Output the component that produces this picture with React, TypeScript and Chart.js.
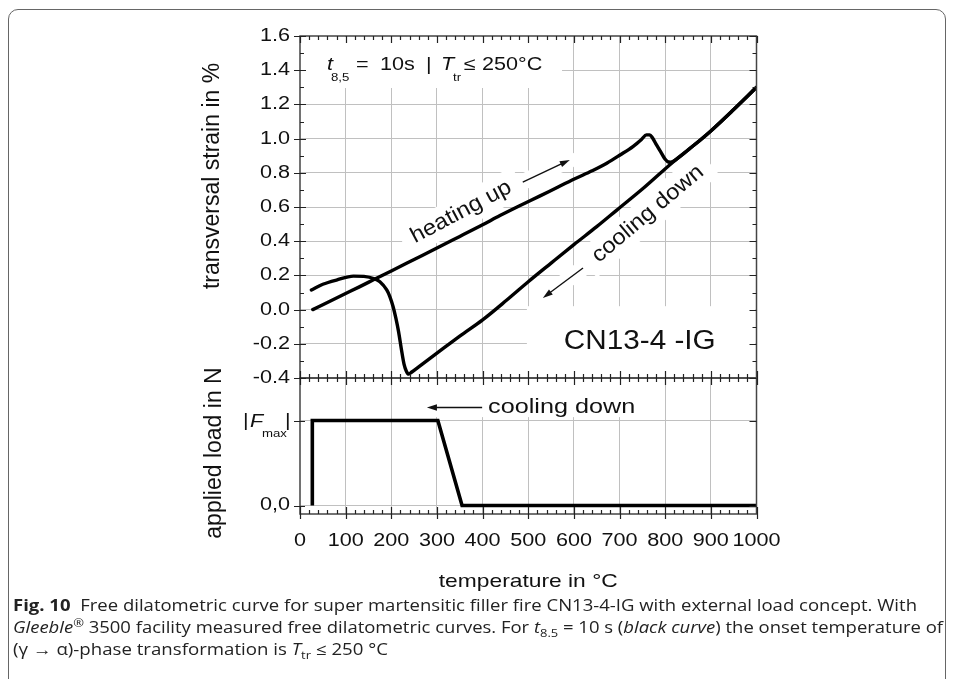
import React, { useEffect, useLayoutEffect, useRef } from 'react';
import { Chart, registerables } from 'chart.js';

Chart.register(...registerables);

// ---------- data ----------
const HEAT_T = [28, 60, 100, 130, 163, 200, 250, 300, 350, 400, 438, 480, 526, 560, 602, 640, 672, 701, 730, 748, 759, 766, 772, 781, 792, 800, 807, 812, 818, 860, 900, 950, 1000];
const HEAT_S = [0.0, 0.042, 0.094, 0.133, 0.177, 0.226, 0.293, 0.36, 0.428, 0.496, 0.55, 0.606, 0.665, 0.71, 0.765, 0.812, 0.856, 0.904, 0.955, 0.995, 1.022, 1.022, 1.005, 0.963, 0.914, 0.879, 0.863, 0.862, 0.868, 0.955, 1.045, 1.17, 1.3];

const COOL_T = [25, 50, 80, 117, 140, 163, 175, 190, 197, 204, 210, 216, 222, 228, 233, 238, 245, 260, 300, 350, 400, 453, 500, 550, 600, 650, 694, 750, 818, 860, 900, 950, 1000];
const COOL_S = [0.115, 0.148, 0.173, 0.196, 0.194, 0.18, 0.163, 0.115, 0.075, 0.017, -0.05, -0.13, -0.23, -0.32, -0.36, -0.377, -0.365, -0.335, -0.255, -0.155, -0.06, 0.056, 0.163, 0.272, 0.38, 0.485, 0.582, 0.705, 0.865, 0.955, 1.045, 1.17, 1.3];

const LOAD_T = [27, 27, 302, 355, 1000];
const LOAD_V = [0, 1, 1, 0, 0];

const X_TICKS = [0, 100, 200, 300, 400, 500, 600, 700, 800, 900, 1000];
const X_TICK_LABELS = ['0', '100', '200', '300', '400', '500', '600', '700', '800', '900', '1000'];
const STRAIN_TICKS = [-0.4, -0.2, 0, 0.2, 0.4, 0.6, 0.8, 1.0, 1.2, 1.4, 1.6];
const STRAIN_TICK_LABELS = ['-0.4', '-0.2', '0.0', '0.2', '0.4', '0.6', '0.8', '1.0', '1.2', '1.4', '1.6'];
const LOAD_TICKS = [0, 1];
const LOAD_TICK_LABELS = ['0,0', '|Fmax|'];

// ---------- styling ----------
const W = 956;
const CH = 600;
const FONT = '"Liberation Sans", Arial, Helvetica, sans-serif';
const SX = 1.2;
const GRID = '#c0c0c0';
const INK = '#111';
const AXIS = '#444';

function txt(ctx: CanvasRenderingContext2D, s: string, x: number, y: number, size: number, o: any = {}) {
  ctx.save();
  ctx.font = `${o.italic ? 'italic ' : ''}${size}px ${FONT}`;
  ctx.fillStyle = o.color || INK;
  ctx.textAlign = o.align || 'left';
  ctx.textBaseline = 'middle';
  ctx.translate(x, y);
  if (o.rot) ctx.rotate(o.rot);
  ctx.scale(o.sx ?? SX, 1);
  ctx.fillText(s, 0, 0);
  ctx.restore();
}

function arrow(ctx: CanvasRenderingContext2D, x1: number, y1: number, x2: number, y2: number, head = 10) {
  const a = Math.atan2(y2 - y1, x2 - x1);
  const c = Math.cos(a), s = Math.sin(a);
  ctx.save();
  ctx.strokeStyle = INK;
  ctx.fillStyle = INK;
  ctx.lineWidth = 1.4;
  ctx.beginPath();
  ctx.moveTo(x1, y1);
  ctx.lineTo(x2 - head * 0.7 * c, y2 - head * 0.7 * s);
  ctx.stroke();
  ctx.beginPath();
  ctx.moveTo(x2, y2);
  ctx.lineTo(x2 - head * c + head * 0.32 * s, y2 - head * s - head * 0.32 * c);
  ctx.lineTo(x2 - head * c - head * 0.32 * s, y2 - head * s + head * 0.32 * c);
  ctx.closePath();
  ctx.fill();
  ctx.restore();
}

function whiteRot(ctx: CanvasRenderingContext2D, cx: number, cy: number, w: number, h: number, rot: number) {
  ctx.save();
  ctx.translate(cx, cy);
  ctx.rotate(rot);
  ctx.fillStyle = '#fff';
  ctx.fillRect(-w / 2, -h / 2, w, h);
  ctx.restore();
}

function whiteLine(ctx: CanvasRenderingContext2D, x1: number, y1: number, x2: number, y2: number, w: number) {
  ctx.save();
  ctx.strokeStyle = '#fff';
  ctx.lineWidth = w;
  ctx.lineCap = 'round';
  ctx.beginPath();
  ctx.moveTo(x1, y1);
  ctx.lineTo(x2, y2);
  ctx.stroke();
  ctx.restore();
}

const HEAT_ROT = -28 * Math.PI / 180;
const COOL_ROT = -40 * Math.PI / 180;

const decor = {
  id: 'decor',
  beforeDatasetsDraw(chart: any) {
    const ctx: CanvasRenderingContext2D = chart.ctx;
    const { x, y, y2 } = chart.scales;
    ctx.save();
    ctx.fillStyle = '#fff';
    ctx.fillRect(x.left + 1, y.top + 1, x.getPixelForValue(574) - x.left - 1, y.getPixelForValue(1.296) - y.top - 1);
    const cx0 = x.getPixelForValue(497);
    const cy0 = y.getPixelForValue(0.02);
    ctx.fillRect(cx0, cy0, x.right - cx0 - 1, y.bottom - cy0 - 1);
    const bx0 = x.getPixelForValue(262);
    const by1 = y2.getPixelForValue(1.04);
    ctx.fillRect(bx0, y2.top + 1, x.getPixelForValue(760) - bx0, by1 - y2.top - 1);
    ctx.restore();
    whiteRot(ctx, x.getPixelForValue(353), y.getPixelForValue(0.571), 132, 32, HEAT_ROT);
    whiteLine(ctx, x.getPixelForValue(488), y.getPixelForValue(0.746), x.getPixelForValue(591), y.getPixelForValue(0.875), 16);
    whiteRot(ctx, x.getPixelForValue(762), y.getPixelForValue(0.559), 160, 32, COOL_ROT);
    whiteLine(ctx, x.getPixelForValue(620), y.getPixelForValue(0.243), x.getPixelForValue(532), y.getPixelForValue(0.068), 16);
  },
  afterDatasetsDraw(chart: any) {
    const ctx: CanvasRenderingContext2D = chart.ctx;
    const { x, y, y2 } = chart.scales;
    const L = x.left, R = x.right, T = y.top, M = y.bottom, B = y2.bottom;

    ctx.save();
    ctx.strokeStyle = AXIS;
    ctx.lineWidth = 1.5;
    ctx.strokeRect(L, T, R - L, M - T);
    ctx.strokeRect(L, M, R - L, B - M);

    ctx.lineWidth = 1.2;
    ctx.strokeStyle = '#222';
    ctx.beginPath();
    for (let t = 0; t <= 1000; t += 20) {
      const px = Math.round(x.getPixelForValue(t)) + 0.5;
      const major = t % 100 === 0;
      const len = major ? 7 : 4;
      ctx.moveTo(px, T); ctx.lineTo(px, T + len);
      ctx.moveTo(px, M - len); ctx.lineTo(px, M + len);
      ctx.moveTo(px, B - len); ctx.lineTo(px, B + (major ? 5 : 0));
    }
    for (let i = 0; i <= 20; i++) {
      const v = -0.4 + i * 0.1;
      const py = Math.round(y.getPixelForValue(v)) + 0.5;
      const major = i % 2 === 0;
      ctx.moveTo(L - (major ? 6 : 0), py); ctx.lineTo(L + (major ? 6 : 4), py);
      ctx.moveTo(R, py); ctx.lineTo(R - (major ? 7 : 4), py);
    }
    for (const v of LOAD_TICKS) {
      const py = Math.round(y2.getPixelForValue(v)) + 0.5;
      ctx.moveTo(L - 6, py); ctx.lineTo(L + 5, py);
      ctx.moveTo(R, py); ctx.lineTo(R - 7, py);
    }
    ctx.stroke();
    ctx.restore();

    X_TICKS.forEach((v, i) => {
      txt(ctx, X_TICK_LABELS[i], x.getPixelForValue(v), B + 27, 18, { align: 'center' });
    });
    STRAIN_TICKS.forEach((v, i) => {
      txt(ctx, STRAIN_TICK_LABELS[i], L - 10, y.getPixelForValue(v), 18, { align: 'right' });
    });
    txt(ctx, LOAD_TICK_LABELS[0], L - 10, y2.getPixelForValue(LOAD_TICKS[0]), 18, { align: 'right' });
    const fy = y2.getPixelForValue(LOAD_TICKS[1]);
    txt(ctx, '|', L - 57, fy + 1, 18);
    txt(ctx, 'F', L - 50, fy + 1, 18, { italic: true });
    txt(ctx, 'max', L - 38, fy + 13, 11);
    txt(ctx, '|', L - 15, fy + 1, 18);

    txt(ctx, 'transversal strain in %', 213, 176, 23, { align: 'center', rot: -Math.PI / 2, sx: 1 });
    txt(ctx, 'applied load in N', 215, 453, 23, { align: 'center', rot: -Math.PI / 2, sx: 1 });
    txt(ctx, 'temperature in °C', (L + R) / 2, 582, 19, { align: 'center' });

    const ay = y.getPixelForValue(1.43);
    txt(ctx, 't', 327, ay, 18, { italic: true });
    txt(ctx, '8,5', 331, ay + 13, 11);
    txt(ctx, '=', 356, ay, 18);
    txt(ctx, '10s', 380, ay, 18);
    txt(ctx, '|', 426, ay, 18);
    txt(ctx, 'T', 441, ay, 18, { italic: true });
    txt(ctx, 'tr', 453, ay + 13, 11);
    txt(ctx, '\u2264', 464, ay, 18);
    txt(ctx, '250°C', 482, ay, 18);

    txt(ctx, 'heating up', x.getPixelForValue(353), y.getPixelForValue(0.571), 22, { align: 'center', rot: HEAT_ROT, sx: 1.08 });
    arrow(ctx, x.getPixelForValue(488), y.getPixelForValue(0.746), x.getPixelForValue(591), y.getPixelForValue(0.875));
    txt(ctx, 'cooling down', x.getPixelForValue(762), y.getPixelForValue(0.559), 22, { align: 'center', rot: COOL_ROT, sx: 1.08 });
    arrow(ctx, x.getPixelForValue(620), y.getPixelForValue(0.243), x.getPixelForValue(532), y.getPixelForValue(0.068));

    txt(ctx, 'CN13-4 -IG', x.getPixelForValue(578), y.getPixelForValue(-0.184), 27, { sx: 1.1 });

    const cy = y2.getPixelForValue(1.153);
    arrow(ctx, x.getPixelForValue(399), cy, x.getPixelForValue(278), cy);
    txt(ctx, 'cooling down', x.getPixelForValue(412), cy, 21);
  },
};

function makeData(xs: number[], ys: number[]) {
  return xs.map((v, i) => ({ x: v, y: ys[i] }));
}

function ChartPanel() {
  const ref = useRef<HTMLCanvasElement | null>(null);
  useEffect(() => {
    if (!ref.current) return;
    const chart = new Chart(ref.current, {
      type: 'line',
      data: {
        datasets: [
          {
            label: 'heating',
            data: makeData(HEAT_T, HEAT_S),
            yAxisID: 'y',
            borderColor: '#000',
            borderWidth: 3.4,
            pointRadius: 0,
            cubicInterpolationMode: 'monotone',
            borderCapStyle: 'round',
            borderJoinStyle: 'round',
          },
          {
            label: 'cooling',
            data: makeData(COOL_T, COOL_S),
            yAxisID: 'y',
            borderColor: '#000',
            borderWidth: 3.4,
            pointRadius: 0,
            cubicInterpolationMode: 'monotone',
            borderCapStyle: 'round',
            borderJoinStyle: 'round',
          },
          {
            label: 'load',
            data: makeData(LOAD_T, LOAD_V),
            yAxisID: 'y2',
            borderColor: '#000',
            borderWidth: 3.6,
            pointRadius: 0,
            tension: 0,
            borderJoinStyle: 'miter',
          },
        ],
      },
      options: {
        responsive: false,
        animation: false,
        events: [],
        layout: { padding: { left: 0, top: 36, right: W - 756.5, bottom: 0 } },
        plugins: { legend: { display: false }, tooltip: { enabled: false } },
        scales: {
          x: {
            type: 'linear',
            position: 'bottom',
            min: 0,
            max: 1000,
            afterBuildTicks: (s: any) => { s.ticks = X_TICKS.map((v) => ({ value: v })); },
            afterFit: (s: any) => { s.height = CH - 514; },
            ticks: { display: false },
            grid: {
              drawTicks: false,
              lineWidth: 1,
              color: (c: any) => (c.tick && (c.tick.value === 0 || c.tick.value === 1000) ? 'rgba(0,0,0,0)' : GRID),
            },
            border: { display: false },
          },
          y: {
            type: 'linear',
            position: 'left',
            stack: 'panels',
            stackWeight: 342,
            weight: 2,
            min: -0.4,
            max: 1.6,
            afterBuildTicks: (s: any) => { s.ticks = STRAIN_TICKS.map((v) => ({ value: v })); },
            afterFit: (s: any) => { s.width = 300; },
            ticks: { display: false },
            grid: {
              drawTicks: false,
              lineWidth: 1,
              color: (c: any) => (c.tick && (Math.abs(c.tick.value - 1.6) < 1e-6 || Math.abs(c.tick.value + 0.4) < 1e-6) ? 'rgba(0,0,0,0)' : GRID),
            },
            border: { display: false },
          },
          y2: {
            type: 'linear',
            position: 'left',
            stack: 'panels',
            stackWeight: 136,
            weight: 1,
            min: -0.1,
            max: 1.5,
            afterBuildTicks: (s: any) => { s.ticks = LOAD_TICKS.map((v) => ({ value: v })); },
            afterFit: (s: any) => { s.width = 300; },
            ticks: { display: false },
            grid: { drawTicks: false, lineWidth: 1, color: GRID },
            border: { display: false },
          },
        },
      },
      plugins: [decor],
    } as any);
    return () => chart.destroy();
  }, []);
  return <canvas ref={ref} width={W} height={CH} style={{ position: 'absolute', left: 0, top: 0, display: 'block' }} />;
}

const CAP_FONT = '"Open Sans", "Noto Sans", sans-serif';
const CAP_TARGETS = [904, 930, 375];

export default function App() {
  const lineRefs = useRef<(HTMLSpanElement | null)[]>([]);
  useLayoutEffect(() => {
    lineRefs.current.forEach((el, i) => {
      if (!el) return;
      el.style.transform = 'none';
      const w = el.getBoundingClientRect().width;
      if (w > 0) el.style.transform = `scaleX(${CAP_TARGETS[i] / w})`;
    });
  }, []);
  const lineStyle: React.CSSProperties = {
    position: 'absolute',
    left: 13,
    whiteSpace: 'nowrap',
    display: 'inline-block',
    transformOrigin: 'left center',
    fontFamily: CAP_FONT,
    fontSize: 15.5,
    lineHeight: '22px',
    color: '#222',
  };
  return (
    <div style={{ position: 'absolute', left: 0, top: 0, width: W, height: 679, overflow: 'hidden', background: '#fff' }}>
      <div style={{ position: 'absolute', left: 8, top: 9, width: 938, height: 720, border: '1.5px solid #666', borderRadius: 10, boxSizing: 'border-box' }} />
      <ChartPanel />
      <span ref={(e) => { lineRefs.current[0] = e; }} style={{ ...lineStyle, top: 594 }}>
        <b style={{ fontWeight: 700 }}>Fig. 10</b>{'\u00a0\u00a0'}Free dilatometric curve for super martensitic filler fire CN13-4-IG with external load concept. With
      </span>
      <span ref={(e) => { lineRefs.current[1] = e; }} style={{ ...lineStyle, top: 616 }}>
        <i>Gleeble</i><sup style={{ fontSize: '0.7em', lineHeight: 0 }}>®</sup> 3500 facility measured free dilatometric curves. For <i>t</i><sub style={{ fontSize: '0.7em', lineHeight: 0 }}>8.5</sub> = 10 s (<i>black curve</i>) the onset temperature of
      </span>
      <span ref={(e) => { lineRefs.current[2] = e; }} style={{ ...lineStyle, top: 638 }}>
        (γ → α)-phase transformation is <i>T</i><sub style={{ fontSize: '0.7em', lineHeight: 0 }}>tr</sub> ≤ 250 °C
      </span>
    </div>
  );
}
